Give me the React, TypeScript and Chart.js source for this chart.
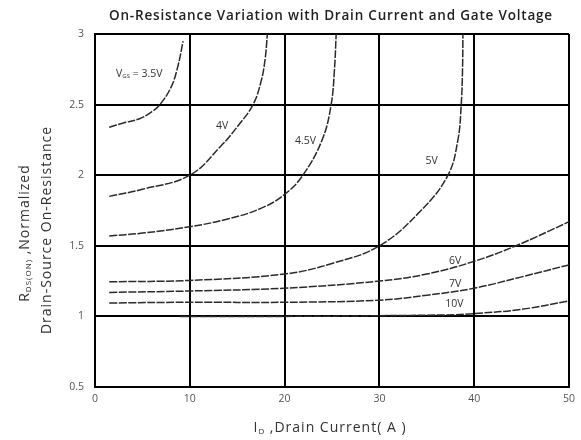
import React, { useEffect, useRef } from "react";
import { Chart, registerables } from "chart.js";

Chart.register(...registerables);

const TITLE = "On-Resistance Variation with Drain Current and Gate Voltage";
const X_TICKS = [0, 10, 20, 30, 40, 50];
const Y_TICKS = [0.5, 1, 1.5, 2, 2.5, 3];

const V35_X = [1.5, 3, 4.7, 6, 6.85, 8, 8.7, 9.3];
const V35_Y = [2.34, 2.37, 2.4, 2.45, 2.5, 2.62, 2.76, 2.95];
const V4_X = [1.5, 5, 10, 13.33, 15.09, 16.67, 17.54, 17.96, 18.18];
const V4_Y = [1.85, 1.9, 2.0, 2.21, 2.35, 2.5, 2.67, 2.83, 3.0];
const V45_X = [1.5, 5, 10, 14, 17.5, 20, 21.93, 23.96, 24.91, 25.26, 25.44];
const V45_Y = [1.57, 1.59, 1.635, 1.69, 1.765, 1.864, 2.0, 2.25, 2.5, 2.75, 3.0];
const V5_X = [1.5, 10, 20, 25, 30, 34.39, 37.23, 38.28, 38.63, 38.77, 38.81];
const V5_Y = [1.245, 1.255, 1.3, 1.375, 1.5, 1.75, 2.0, 2.25, 2.5, 2.75, 3.0];
const V6_X = [1.5, 10, 20, 30, 35, 40, 44.4, 50];
const V6_Y = [1.17, 1.18, 1.2, 1.25, 1.3, 1.39, 1.5, 1.67];
const V7_X = [1.5, 10, 20, 30, 35, 40, 45, 50];
const V7_Y = [1.095, 1.1, 1.1, 1.115, 1.15, 1.2, 1.28, 1.365];
const V10_X = [9, 20, 30, 38, 40, 45, 50];
const V10_Y = [1.0, 1.0, 1.005, 1.012, 1.02, 1.05, 1.11];

const LABEL_TEXT = ["3.5V", "4V", "4.5V", "5V", "6V", "7V", "10V"];
const LABEL_X = [4.67, 13.4, 22.2, 35.5, 38.0, 38.0, 37.9];
const LABEL_Y = [2.72, 2.35, 2.24, 2.1, 1.39, 1.23, 1.09];

const FONT = "'Open Sans', sans-serif";

const series = [
  [V35_X, V35_Y],
  [V4_X, V4_Y],
  [V45_X, V45_Y],
  [V5_X, V5_Y],
  [V6_X, V6_Y],
  [V7_X, V7_Y],
  [V10_X, V10_Y],
];

function drawSubText(
  ctx: CanvasRenderingContext2D,
  parts: { t: string; sub?: boolean }[],
  size: number,
  weight: string,
  cx: number,
  cy: number,
  spacing = 0
) {
  const big = `${weight} ${size}px ${FONT}`;
  const small = `${weight} ${Math.round(size * 0.55)}px ${FONT}`;
  (ctx as any).letterSpacing = `${spacing}px`;
  let total = 0;
  const widths = parts.map((p) => {
    ctx.font = p.sub ? small : big;
    const w = ctx.measureText(p.t).width;
    total += w;
    return w;
  });
  let x = cx - total / 2;
  ctx.textBaseline = "middle";
  ctx.textAlign = "left";
  parts.forEach((p, i) => {
    ctx.font = p.sub ? small : big;
    ctx.fillText(p.t, x, p.sub ? cy + size * 0.3 : cy);
    x += widths[i];
  });
  (ctx as any).letterSpacing = "0px";
}

const textPlugin = {
  id: "texts",
  afterDraw(chart: any) {
    const ctx = chart.ctx as CanvasRenderingContext2D;
    const xs = chart.scales.x;
    const ys = chart.scales.y;
    ctx.save();
    ctx.fillStyle = "#222";
    // title
    drawSubText(ctx, [{ t: TITLE }], 13.5, "600", 331, 16, 0.8);

    // curve labels
    ctx.fillStyle = "#333";
    LABEL_TEXT.forEach((t, i) => {
      const px = xs.getPixelForValue(LABEL_X[i]);
      const py = ys.getPixelForValue(LABEL_Y[i]);
      if (i === 0) {
        drawSubText(
          ctx,
          [{ t: "V" }, { t: "GS", sub: true }, { t: " = " + t }],
          10.5,
          "normal",
          px,
          py
        );
      } else {
        drawSubText(ctx, [{ t }], 10.5, "normal", px, py);
      }
    });

    // x axis title
    ctx.fillStyle = "#333";
    drawSubText(
      ctx,
      [{ t: "I" }, { t: "D", sub: true }, { t: " ,Drain Current( A )" }],
      14,
      "normal",
      330,
      428,
      1
    );

    // y axis title (rotated)
    ctx.save();
    ctx.translate(25, 233);
    ctx.rotate(-Math.PI / 2);
    drawSubText(
      ctx,
      [{ t: "R" }, { t: "DS(ON)", sub: true }, { t: " ,Normalized" }],
      14,
      "normal",
      0,
      0,
      1
    );
    ctx.restore();
    ctx.save();
    ctx.translate(47, 230);
    ctx.rotate(-Math.PI / 2);
    drawSubText(ctx, [{ t: "Drain-Source On-Resistance" }], 14, "normal", 0, 0, 1);
    ctx.restore();
    ctx.restore();
  },
};

export default function App() {
  const ref = useRef<HTMLCanvasElement | null>(null);
  useEffect(() => {
    if (!ref.current) return;
    const chart = new Chart(ref.current, {
      type: "line",
      data: {
        datasets: series.map(([xs, ys]) => ({
          data: xs.map((x, i) => ({ x, y: ys[i] })),
          borderColor: "#2a2a2a",
          borderWidth: 1.5,
          borderDash: [8, 1.5],
          pointRadius: 0,
          tension: 0.4,
          fill: false,
        })),
      },
      options: {
        animation: false,
        responsive: false,
        maintainAspectRatio: false,
        layout: { padding: { left: 0, right: 7, top: 34, bottom: 0 } },
        plugins: { legend: { display: false }, title: { display: false }, tooltip: { enabled: false } },
        scales: {
          x: {
            type: "linear",
            min: 0,
            max: 50,
            afterBuildTicks: (s: any) => {
              s.ticks = X_TICKS.map((v) => ({ value: v }));
            },
            afterFit: (s: any) => {
              s.height = 53;
            },
            grid: { color: "#000", lineWidth: 2, drawTicks: false },
            border: { display: true, color: "#000", width: 2 },
            ticks: {
              color: "#555",
              font: { family: FONT, size: 10.5 },
              padding: 6,
              maxRotation: 0,
              callback: (v: any) => String(v),
            },
          },
          y: {
            type: "linear",
            min: 0.5,
            max: 3,
            afterBuildTicks: (s: any) => {
              s.ticks = Y_TICKS.map((v) => ({ value: v }));
            },
            afterFit: (s: any) => {
              s.width = 95;
            },
            grid: { color: "#000", lineWidth: 2, drawTicks: false },
            border: { display: true, color: "#000", width: 2 },
            ticks: {
              color: "#555",
              font: { family: FONT, size: 10.5 },
              padding: 11,
              callback: (v: any) => String(v),
            },
          },
        },
      },
      plugins: [textPlugin],
    } as any);
    return () => chart.destroy();
  }, []);
  return (
    <div style={{ position: "absolute", left: 0, top: 0, width: 581, height: 440, background: "#fff" }}>
      <canvas ref={ref} width={581} height={440} style={{ width: 581, height: 440 }} />
    </div>
  );
}
